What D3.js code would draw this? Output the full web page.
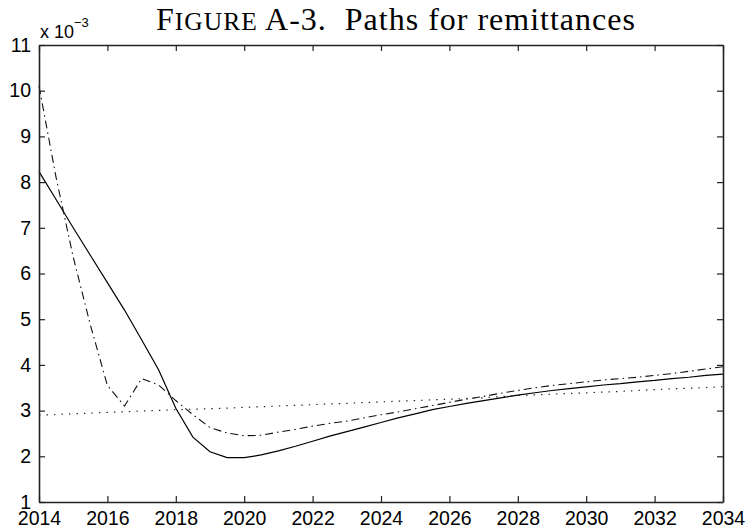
<!DOCTYPE html>
<html><head><meta charset="utf-8">
<script src="https://cdn.jsdelivr.net/npm/d3@7"></script>
<style>body{margin:0;background:#fff}svg{display:block}text{white-space:pre}</style>
</head><body>
<svg id="c" width="747" height="531"></svg>
<script>
// Values in units of 1e-3
const years = [2014,2014.5,2015,2015.5,2016,2016.5,2017,2017.5,2018,2018.5,2019,2019.5,2020,2020.5,2021,2021.5,2022,2022.5,2023,2023.5,2024,2024.5,2025,2025.5,2026,2026.5,2027,2027.5,2028,2028.5,2029,2029.5,2030,2030.5,2031,2031.5,2032,2032.5,2033,2033.5,2034];
const solid = [8.23,7.62,7.0,6.4,5.8,5.2,4.55,3.89,3.05,2.42,2.10,1.97,1.97,2.03,2.12,2.22,2.33,2.44,2.54,2.64,2.74,2.84,2.93,3.02,3.09,3.16,3.22,3.28,3.34,3.39,3.44,3.48,3.52,3.56,3.59,3.63,3.66,3.70,3.73,3.77,3.80];
const dashdot = [10.1,8.1,6.36,4.88,3.55,3.1,3.70,3.56,3.22,2.91,2.63,2.51,2.45,2.46,2.53,2.59,2.66,2.72,2.77,2.84,2.91,2.97,3.04,3.11,3.18,3.25,3.31,3.38,3.44,3.50,3.55,3.59,3.63,3.67,3.70,3.73,3.77,3.81,3.86,3.91,3.96];
const yearsAnnual = [2014,2015,2016,2017,2018,2019,2020,2021,2022,2023,2024,2025,2026,2027,2028,2029,2030,2031,2032,2033,2034];
const dotted = [2.90,2.93,2.96,2.99,3.02,3.04,3.07,3.10,3.13,3.16,3.19,3.22,3.25,3.28,3.33,3.36,3.39,3.42,3.46,3.49,3.52];
const xTicks = [2014,2016,2018,2020,2022,2024,2026,2028,2030,2032,2034];
const yTicks = [1,2,3,4,5,6,7,8,9,10,11];

const L=39,R=723,T=45,B=502;
const svg=d3.select("#c");
const x=d3.scaleLinear().domain([2014,2034]).range([L,R]);
const y=d3.scaleLinear().domain([1,11]).range([B,T]);

// title
const title=svg.append("text").attr("x",396).attr("y",30).attr("text-anchor","middle")
  .attr("font-family","'Liberation Serif', serif").attr("font-size",32).attr("letter-spacing",1.0).attr("fill","#000");
title.append("tspan").text("F");
title.append("tspan").attr("font-size",25.5).text("IGURE");
title.append("tspan").text(" A-3.  Paths for remittances");

const line=d3.line().x(d=>x(d[0])).y(d=>y(d[1]));
const g=svg.append("g");
g.append("path").datum(years.map((t,i)=>[t,solid[i]])).attr("d",line)
  .attr("fill","none").attr("stroke","#000").attr("stroke-width",1.2);
g.append("path").datum(years.map((t,i)=>[t,dashdot[i]])).attr("d",line)
  .attr("fill","none").attr("stroke","#111").attr("stroke-width",1.1).attr("stroke-dasharray","8,4,1.5,4");
g.append("path").datum(yearsAnnual.map((t,i)=>[t,dotted[i]])).attr("d",line)
  .attr("fill","none").attr("stroke","#222").attr("stroke-width",1.2).attr("stroke-dasharray","1.4,6.1");

// axes
const font="'Liberation Sans', Arial, sans-serif";
const ax=svg.append("g").attr("transform",`translate(0,${B})`).call(d3.axisBottom(x).tickValues(xTicks).tickFormat(d3.format("d")).tickSizeInner(-6).tickSizeOuter(0).tickPadding(9));
const axT=svg.append("g").attr("transform",`translate(0,${T})`).call(d3.axisTop(x).tickValues(xTicks).tickFormat("").tickSizeInner(-6).tickSizeOuter(0));
const ay=svg.append("g").attr("transform",`translate(${L},0)`).call(d3.axisLeft(y).tickValues(yTicks).tickFormat(d3.format("d")).tickSizeInner(-6).tickSizeOuter(0).tickPadding(8));
const ayR=svg.append("g").attr("transform",`translate(${R},0)`).call(d3.axisRight(y).tickValues(yTicks).tickFormat("").tickSizeInner(-6).tickSizeOuter(0));
[ax,axT,ay,ayR].forEach(a=>{
  a.select(".domain").attr("stroke","#222").attr("stroke-width",1.6);
  a.selectAll(".tick line").attr("stroke","#222").attr("stroke-width",1.2);
  a.selectAll("text").attr("font-family",font).attr("font-size",19.5).attr("fill","#000");
});
ax.selectAll(".tick text").attr("dy","0.74em");

// exponent label
const ex=svg.append("text").attr("x",40).attr("y",38).attr("font-family",font).attr("font-size",18).attr("fill","#000");
ex.append("tspan").text("x 10");
ex.append("tspan").attr("font-size",13).attr("dy",-11).text("−3");
</script>
</body></html>
